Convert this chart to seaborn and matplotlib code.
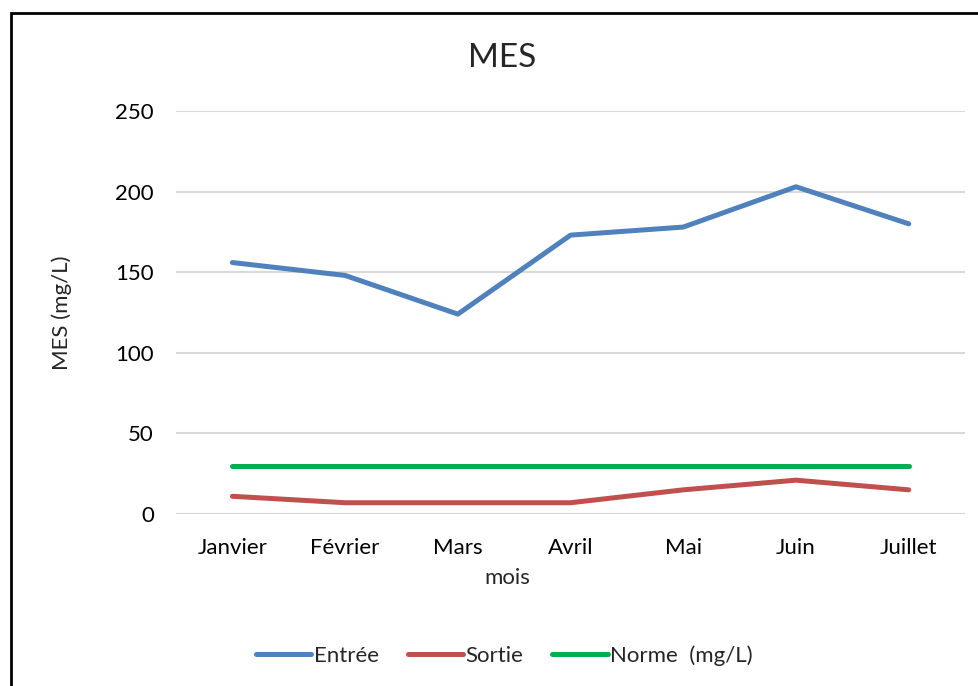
import numpy as np
import pandas as pd
import matplotlib
matplotlib.use('Agg')
import matplotlib.pyplot as plt
import seaborn as sns

# data
mois = ['Janvier', 'Février', 'Mars', 'Avril', 'Mai', 'Juin', 'Juillet']
entree = [156, 148, 124, 173, 178, 203, 180]
sortie = [11, 7, 7, 7, 15, 21, 15]
norme = [30, 30, 30, 30, 30, 30, 30]
series = ['Entrée', 'Sortie', 'Norme  (mg/L)']
colors = ['#4F81BD', '#C0504D', '#00B050']

df = pd.DataFrame({
    'mois': mois * 3,
    'val': entree + sortie + norme,
    'serie': [series[0]] * 7 + [series[1]] * 7 + [series[2]] * 7,
})
df['x'] = np.tile(np.arange(len(mois)), 3)

sns.set_style('white')
plt.rcParams['font.family'] = ['Lato', 'DejaVu Sans']

fig = plt.figure(figsize=(9.79, 6.86), dpi=100)
ax = fig.add_axes([0.1798, 0.2507, 0.806, 0.5875])

sns.lineplot(data=df, x='x', y='val', hue='serie', palette=colors,
             linewidth=3.6, ax=ax, legend=True)

ax.set_xlim(-0.5, 6.5)
ax.set_ylim(0, 250)
ax.set_yticks([0, 50, 100, 150, 200, 250])
ax.set_xticks(range(len(mois)))
ax.set_xticklabels(mois)
ax.yaxis.grid(True, color='#D9D9D9', linewidth=1.5)
ax.set_axisbelow(True)
for s in ax.spines.values():
    s.set_visible(False)
ax.tick_params(axis='both', length=0, labelsize=16, colors='black')
ax.tick_params(axis='y', pad=16)
ax.tick_params(axis='x', pad=17)

ax.set_xlabel('mois', fontsize=16, labelpad=8)
ax.xaxis.set_label_coords(0.42, -0.135)
ax.set_ylabel('MES (mg/L)', fontsize=16, labelpad=31)
fig.text(0.513, 0.915, 'MES', ha='center', va='center', fontsize=24)

h, l = ax.get_legend_handles_labels()
leg = ax.legend(h, l, loc='center', ncol=3, frameon=False, fontsize=16,
                bbox_to_anchor=(0.515, 0.044), bbox_transform=fig.transFigure,
                handlelength=2.5, handletextpad=0.1, columnspacing=1.3)
for line in leg.get_lines():
    line.set_linewidth(3.6)

# outer border (only left and top are visible in the picture)
fig.add_artist(plt.Rectangle((11 / 979, -0.1), 1.2, (686 - 13) / 686 + 0.1,
                             transform=fig.transFigure, fill=False,
                             edgecolor='black', linewidth=2))

fig.savefig('out.png', dpi=100)
